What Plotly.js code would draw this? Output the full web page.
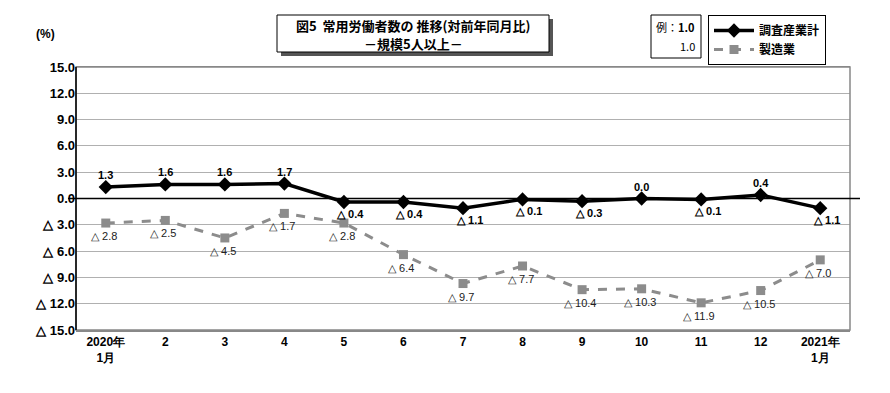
<!DOCTYPE html>
<html><head><meta charset="utf-8">
<script src="https://cdn.plot.ly/plotly-3.0.1.min.js"></script>
<style>html,body{margin:0;padding:0;background:#fff;}#chart{width:890px;height:393px;}</style>
</head><body><div id="chart"></div>
<script>
const months = ["2020年<br>1月","2","3","4","5","6","7","8","9","10","11","12","2021年<br>1月"];
const totalVals = [1.3, 1.6, 1.6, 1.7, -0.4, -0.4, -1.1, -0.1, -0.3, 0.0, -0.1, 0.4, -1.1];
const mfgVals = [-2.8, -2.5, -4.5, -1.7, -2.8, -6.4, -9.7, -7.7, -10.4, -10.3, -11.9, -10.5, -7.0];
const yTickVals = [15, 12, 9, 6, 3, 0, -3, -6, -9, -12, -15];
const yTickText = ["15.0","12.0","9.0","6.0","3.0","0.0","△ 3.0","△ 6.0","△ 9.0","△ 12.0","△ 15.0"];
const seriesNames = ["調査産業計","製造業"];
const titleLines = ["図5  常用労働者数の 推移(対前年同月比)", "－規模5人以上－"];

const fmt = v => v < 0 ? "△ " + Math.abs(v).toFixed(1) : v.toFixed(1);
const xs = months.map((m,i)=>i);
const NARROW = "'Liberation Sans Narrow', 'Arial Narrow', 'Liberation Sans', sans-serif";
const JP = "'Noto Sans CJK JP', sans-serif";

const traces = [
  {x: xs, y: mfgVals, name: seriesNames[1], mode: "lines+markers",
   line: {color: "#8c8c8c", width: 3, dash: "dash"},
   marker: {symbol: "square", size: 9, color: "#8c8c8c"}, legendrank: 2},
  {x: xs, y: totalVals, name: seriesNames[0], mode: "lines+markers",
   line: {color: "#000", width: 3.5},
   marker: {symbol: "diamond", size: 11, color: "#000"}, legendrank: 1}
];

const labelAnns = [];
totalVals.forEach((v, i) => {
  const neg = v < 0;
  labelAnns.push({x: i, y: v, xref: "x", yref: "y", showarrow: false,
    text: fmt(v), xanchor: "center", yanchor: "middle",
    xshift: neg ? 6 : 0, yshift: neg ? -12 : 12,
    font: {family: NARROW, size: 11, color: "#000", weight: "bold"}});
});
mfgVals.forEach((v, i) => {
  labelAnns.push({x: i, y: v, xref: "x", yref: "y", showarrow: false,
    text: fmt(v), xanchor: "center", yanchor: "middle",
    xshift: -2, yshift: -13,
    font: {family: NARROW, size: 11, color: "#222"}});
});

const layout = {
  width: 890, height: 393,
  margin: {l: 76, r: 40, t: 67, b: 63},
  paper_bgcolor: "#fff", plot_bgcolor: "#fff",
  showlegend: true,
  legend: {x: (708-76)/774, xanchor: "left", y: 1.0 + 52/263, yanchor: "top",
    bgcolor: "#fff", bordercolor: "#000", borderwidth: 1,
    font: {family: JP, size: 12, color: "#000", weight: "bold"},
    traceorder: "normal", itemwidth: 40, tracegroupgap: 0},
  xaxis: {type: "linear", range: [-0.5, 12.5], tickvals: xs, ticktext: months,
    showgrid: false, zeroline: false, showline: true, linecolor: "#888", linewidth: 1.5,
    mirror: true, ticks: "", tickfont: {family: NARROW, size: 12, color: "#000", weight: "bold"}},
  yaxis: {range: [-15, 15], tickvals: yTickVals, ticktext: yTickText,
    showgrid: true, gridcolor: "#b0b0b0", gridwidth: 1, zeroline: false,
    showline: false, ticks: "",
    tickfont: {family: "'Liberation Sans', Arial, sans-serif", size: 13, color: "#000", weight: "bold"}},
  shapes: [
    {type: "rect", xref: "paper", yref: "paper", x0: 0, x1: 1, y0: 0, y1: 1, line: {color: "#888", width: 1.5}},
    {type: "line", xref: "paper", yref: "paper", x0: 0, x1: 0, y0: 0, y1: 1, line: {color: "#000", width: 1.5}},
    {type: "line", xref: "paper", yref: "y", x0: -8/774, x1: 1 + 10/774, y0: 0, y1: 0, line: {color: "#000", width: 1.5}},
    {type: "rect", xref: "paper", yref: "paper", x0: (281-76)/774, x1: (553-76)/774, y0: 1 + (67-56)/263, y1: 1 + (67-19)/263, fillcolor: "#555", line: {width: 0}, layer: "above"},
    {type: "rect", xref: "paper", yref: "paper", x0: (277-76)/774, x1: (549-76)/774, y0: 1 + (67-52)/263, y1: 1 + (67-15)/263, fillcolor: "#fff", line: {color: "#000", width: 1}, layer: "above"},
    {type: "rect", xref: "paper", yref: "paper", x0: (651-76)/774, x1: (701-76)/774, y0: 1 + (67-58)/263, y1: 1 + (67-15)/263, fillcolor: "#fff", line: {color: "#000", width: 1}, layer: "above"}
  ],
  annotations: labelAnns.concat([
    {xref: "paper", yref: "paper", x: (413-76)/774, y: 1 + (67-26)/263, xanchor: "center", yanchor: "middle", showarrow: false,
     text: titleLines[0], font: {family: JP, size: 13, color: "#000", weight: "bold"}},
    {xref: "paper", yref: "paper", x: (413-76)/774, y: 1 + (67-43)/263, xanchor: "center", yanchor: "middle", showarrow: false,
     text: titleLines[1], font: {family: JP, size: 13, color: "#000", weight: "bold"}},
    {xref: "paper", yref: "paper", x: (697-76)/774, y: 1 + (67-27)/263, xanchor: "right", yanchor: "middle", showarrow: false,
     text: "例：<b>1.0</b>", font: {family: JP, size: 11, color: "#000"}},
    {xref: "paper", yref: "paper", x: (697-76)/774, y: 1 + (67-46)/263, xanchor: "right", yanchor: "middle", showarrow: false,
     text: "1.0", font: {family: JP, size: 11, color: "#000"}},
    {xref: "paper", yref: "paper", x: (45-76)/774, y: 1 + (67-34)/263, xanchor: "center", yanchor: "middle", showarrow: false,
     text: "(%)", font: {family: "'Liberation Sans', Arial, sans-serif", size: 12, color: "#000", weight: "bold"}}
  ])
};
Plotly.newPlot("chart", traces, layout, {displayModeBar: false, staticPlot: true});
</script></body></html>
